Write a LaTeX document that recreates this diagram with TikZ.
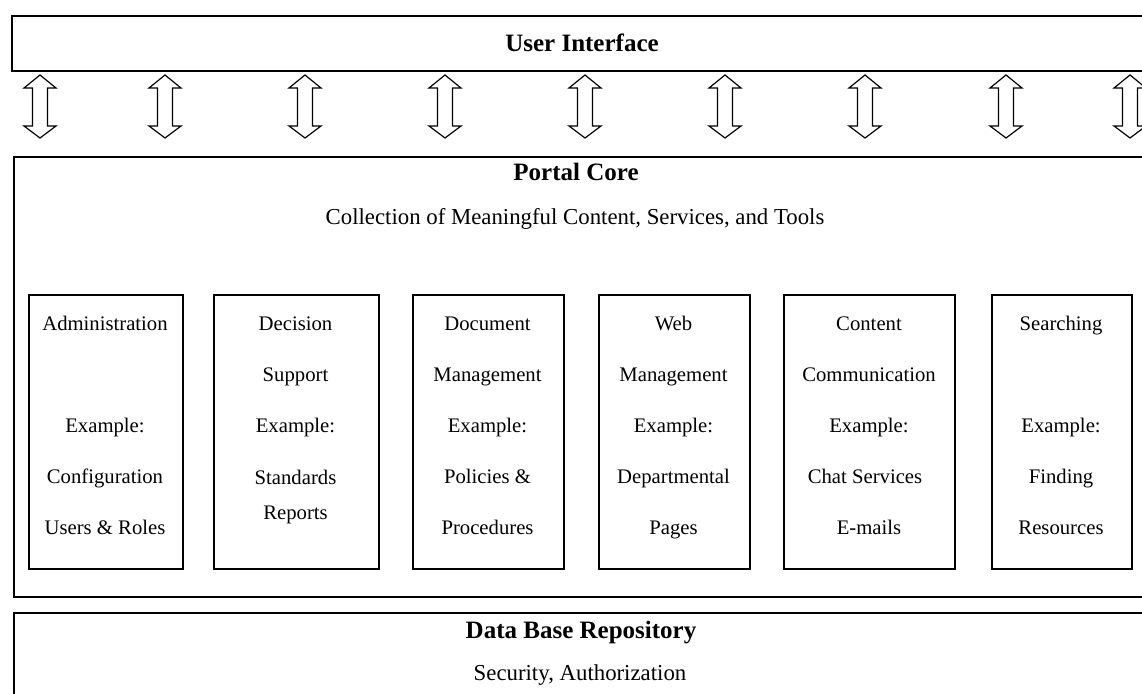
\documentclass[tikz,border=0pt]{standalone}
\usepackage{fontspec}
\setmainfont{Liberation Serif}
\begin{document}
\begin{tikzpicture}[x=1pt,y=-1pt,
  layer/.style={draw, line width=2pt, inner sep=0pt, anchor=north west},
  modbox/.style={draw, line width=2pt, inner sep=0pt, anchor=north west, minimum height=274pt},
  boxtext/.style={anchor=base, inner sep=0pt, font=\fontsize{20.7}{24}\selectfont},
  title/.style={anchor=base, inner sep=0pt, font=\fontsize{25}{28}\selectfont\bfseries},
  subtitle/.style={anchor=base, inner sep=0pt, font=\fontsize{22.8}{26}\selectfont},
  udarrow/.style={draw, line width=1.2pt, fill=white, line join=miter}
]
\useasboundingbox (0,0) rectangle (1142,693);
\clip (0,0) rectangle (1142,693);

% layers
\node[layer, minimum width=1135pt, minimum height=55pt] (ui) at (11,15) {};
\node[layer, minimum width=1133pt, minimum height=440pt] (core) at (13,156) {};
\node[layer, minimum width=1133pt, minimum height=120pt] (db) at (13,612) {};

\node[title] (uit) at (582,52) {User Interface};
\node[title] (coret) at (576,180) {Portal Core};
\node[subtitle] (cores) at (575,224) {Collection of Meaningful Content, Services, and Tools};
\node[title] (dbt) at (581,638) {Data Base Repository};
\node[subtitle] (dbs) at (580,680) {Security, Authorization};

% arrows
\foreach \x [count=\i] in {40,165,305,445,585,725,865,1006,1130} {
  \coordinate (a\i) at (\x,75);
  \draw[udarrow] (a\i) -- ++(16,13) -- ++(-8.5,0) -- ++(0,38) -- ++(8.5,0)
    -- ++(-16,12) -- ++(-16,-12) -- ++(8.5,0) -- ++(0,-38) -- ++(-8.5,0) -- cycle;
}

% module boxes
\node[modbox, minimum width=154pt] (m1) at (28,294) {};
\node[modbox, minimum width=165pt] (m2) at (213,294) {};
\node[modbox, minimum width=151pt] (m3) at (412,294) {};
\node[modbox, minimum width=151pt] (m4) at (598,294) {};
\node[modbox, minimum width=171pt] (m5) at (783,294) {};
\node[modbox, minimum width=140pt] (m6) at (991,294) {};

% texts
\node[boxtext] (t11) at (105,330) {Administration};
\node[boxtext] (t12) at (105,432) {Example:};
\node[boxtext] (t13) at (105,483) {Configuration};
\node[boxtext] (t14) at (105,534) {Users \& Roles};

\node[boxtext] (t21) at (295.5,330) {Decision};
\node[boxtext] (t22) at (295.5,381) {Support};
\node[boxtext] (t23) at (295.5,432) {Example:};
\node[boxtext] (t24) at (295.5,484) {Standards};
\node[boxtext] (t25) at (295.5,519) {Reports};

\node[boxtext] (t31) at (487.5,330) {Document};
\node[boxtext] (t32) at (487.5,381) {Management};
\node[boxtext] (t33) at (487.5,432) {Example:};
\node[boxtext] (t34) at (487.5,483) {Policies \&};
\node[boxtext] (t35) at (487.5,534) {Procedures};

\node[boxtext] (t41) at (673.5,330) {Web};
\node[boxtext] (t42) at (673.5,381) {Management};
\node[boxtext] (t43) at (673.5,432) {Example:};
\node[boxtext] (t44) at (673.5,483) {Departmental};
\node[boxtext] (t45) at (673.5,534) {Pages};

\node[boxtext] (t51) at (869,330) {Content};
\node[boxtext] (t52) at (869,381) {Communication};
\node[boxtext] (t53) at (869,432) {Example:};
\node[boxtext] (t54) at (865,483) {Chat Services};
\node[boxtext] (t55) at (869,534) {E-mails};

\node[boxtext] (t61) at (1061,330) {Searching};
\node[boxtext] (t63) at (1061,432) {Example:};
\node[boxtext] (t64) at (1061,483) {Finding};
\node[boxtext] (t65) at (1061,534) {Resources};
\end{tikzpicture}
\end{document}
